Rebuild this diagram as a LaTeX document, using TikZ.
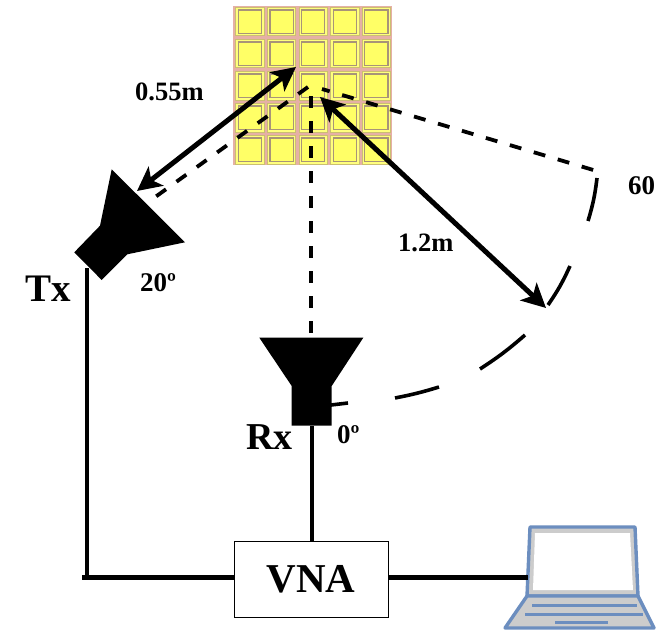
\documentclass[tikz,border=0pt]{standalone}
\usepackage{fontspec}
\setmainfont{Liberation Serif}
\usetikzlibrary{arrows.meta}
\definecolor{panelpink}{HTML}{E6B0A6}
\definecolor{cellyellow}{HTML}{FFFF66}
\definecolor{ringbrown}{HTML}{A89478}
\definecolor{laptopblue}{HTML}{6C8EBF}
\definecolor{laptopgrey}{HTML}{CCCCCC}
\tikzset{
  wire/.style={line width=5pt,black},
  thinwire/.style={line width=4.4pt,black},
  dashline/.style={line width=3.8pt,black,dash pattern=on 12pt off 13pt},
  arcpart/.style={line width=3.6pt,black},
  dim/.style={line width=5pt,black,{Stealth[length=24pt,width=24pt,inset=6pt]}-{Stealth[length=24pt,width=24pt,inset=6pt]}},
  horn/.style={fill=black,draw=none},
  lbl/.style={inner sep=0pt,font=\bfseries},
  lapline/.style={draw=laptopblue,line width=3.4pt,line join=round},
  lapkey/.style={draw=laptopblue,line width=3pt}
}
\begin{document}
\begin{tikzpicture}[x=1pt,y=-1pt]
\useasboundingbox (0,0) rectangle (656,634);
% metasurface panel
\fill[panelpink] (233,6) rectangle (392,165);
\foreach \i in {0,...,4}{\foreach \j in {0,...,4}{
  \pgfmathsetmacro{\cx}{250+31.6*\i}
  \pgfmathsetmacro{\cy}{21.7+32*\j}
  \fill[cellyellow!85!white,draw=ringbrown!60!cellyellow,line width=.8pt] (\cx-14.2,\cy-14.2) rectangle (\cx+14.2,\cy+14.2);
  \draw[ringbrown,line width=1.3pt,fill=cellyellow] (\cx-11.6,\cy-11.6) rectangle (\cx+11.6,\cy+11.6);
}}
% coordinates
\coordinate (focus) at (308,87);
\coordinate (txdash) at (140,208);
\coordinate (rxtop) at (311,338);
\coordinate (corner) at (600,172);
\coordinate (a1s) at (597,178); \coordinate (a1e) at (588,221);
\coordinate (a2s) at (570,266); \coordinate (a2e) at (548,305);
\coordinate (a3s) at (525,335); \coordinate (a3e) at (480,369);
\coordinate (a4s) at (439,387); \coordinate (a4e) at (395,398);
\coordinate (a5s) at (348,403); \coordinate (a5e) at (331,405);
\coordinate (tip1) at (296,67); \coordinate (tip2) at (137,191);
\coordinate (tip3) at (320,97); \coordinate (tip4) at (546,308);
% dashed rays
\draw[dashline] (focus) -- (txdash);
\draw[dashline] (311,96) -- (rxtop);
\draw[dashline,dash phase=4pt] (322,89) -- (corner);
% arc segments
\draw[arcpart] (a1s) to[bend left=5] (a1e);
\draw[arcpart] (a2s) to[bend left=5] (a2e);
\draw[arcpart] (a3s) to[bend left=4] (a3e);
\draw[arcpart] (a4s) to[bend left=3] (a4e);
\draw[arcpart] (a5s) -- (a5e);
% distance arrows
\draw[dim] (tip2) -- (tip1);
\draw[dim] (tip3) -- (tip4);
% horns
\fill[horn] (111.7,169.3) -- (185,242.3) -- (127.3,254.3) -- (101.7,280) -- (74.3,252.3) -- (100,225.7) -- cycle;
\fill[horn] (259.3,337.7) -- (363.3,337.7) -- (331.7,386) -- (331.7,425.7) -- (291.7,425.7) -- (291.7,386) -- cycle;
% VNA
\node[draw=black,line width=.8pt,fill=white,minimum width=154pt,minimum height=76pt,inner sep=0pt,font=\bfseries\fontsize{41}{41}\selectfont] (vna) at (311,579) {VNA};
% laptop
\fill[laptopgrey] (530,527) -- (635,527) -- (638,596) -- (527,596) -- cycle;
\fill[white] (535,533) -- (630,533) -- (633,590) -- (533,590) -- cycle;
\draw[lapline] (530,527) -- (635,527) -- (638,596) -- (527,596) -- cycle;
\draw[lapline,fill=laptopgrey] (527,596) -- (638,596) -- (654,628) -- (505,628) -- cycle;
\draw[lapkey] (532,605) -- (637,605);
\draw[lapkey] (525,614) -- (643,614);
\draw[lapkey] (555,622) -- (608,622);
\coordinate (lap) at (528,577);
% wires
\coordinate (txout) at (87,268);
\coordinate (txcorner) at (87,577);
\coordinate (rxout) at (312,426);
\draw[thinwire] (txout) -- (txcorner);
\draw[wire] (82,577) -- (vna.west |- txcorner);
\draw[thinwire] (rxout) -- (vna.north -| rxout);
\draw[wire] (vna.east |- lap) -- (lap);
% labels
\node[lbl,anchor=west,font=\bfseries\fontsize{26.5}{26.5}\selectfont] (d1) at (135,92) {0.55m};
\node[lbl,anchor=west,font=\bfseries\fontsize{26.5}{26.5}\selectfont] (d2) at (398,243) {1.2m};
\node[lbl,anchor=west,font=\bfseries\fontsize{27}{27}\selectfont] (a60) at (628,186) {60};
\node[lbl,anchor=west,font=\bfseries\fontsize{27}{27}\selectfont] (a20) at (140,283) {20º};
\node[lbl,anchor=west,font=\bfseries\fontsize{27}{27}\selectfont] (a0) at (337,435) {0º};
\node[lbl,anchor=west,font=\bfseries\fontsize{39}{39}\selectfont] (tx) at (25,289) {Tx};
\node[lbl,anchor=west,font=\bfseries\fontsize{38}{38}\selectfont] (rx) at (246,437) {Rx};
\end{tikzpicture}
\end{document}
